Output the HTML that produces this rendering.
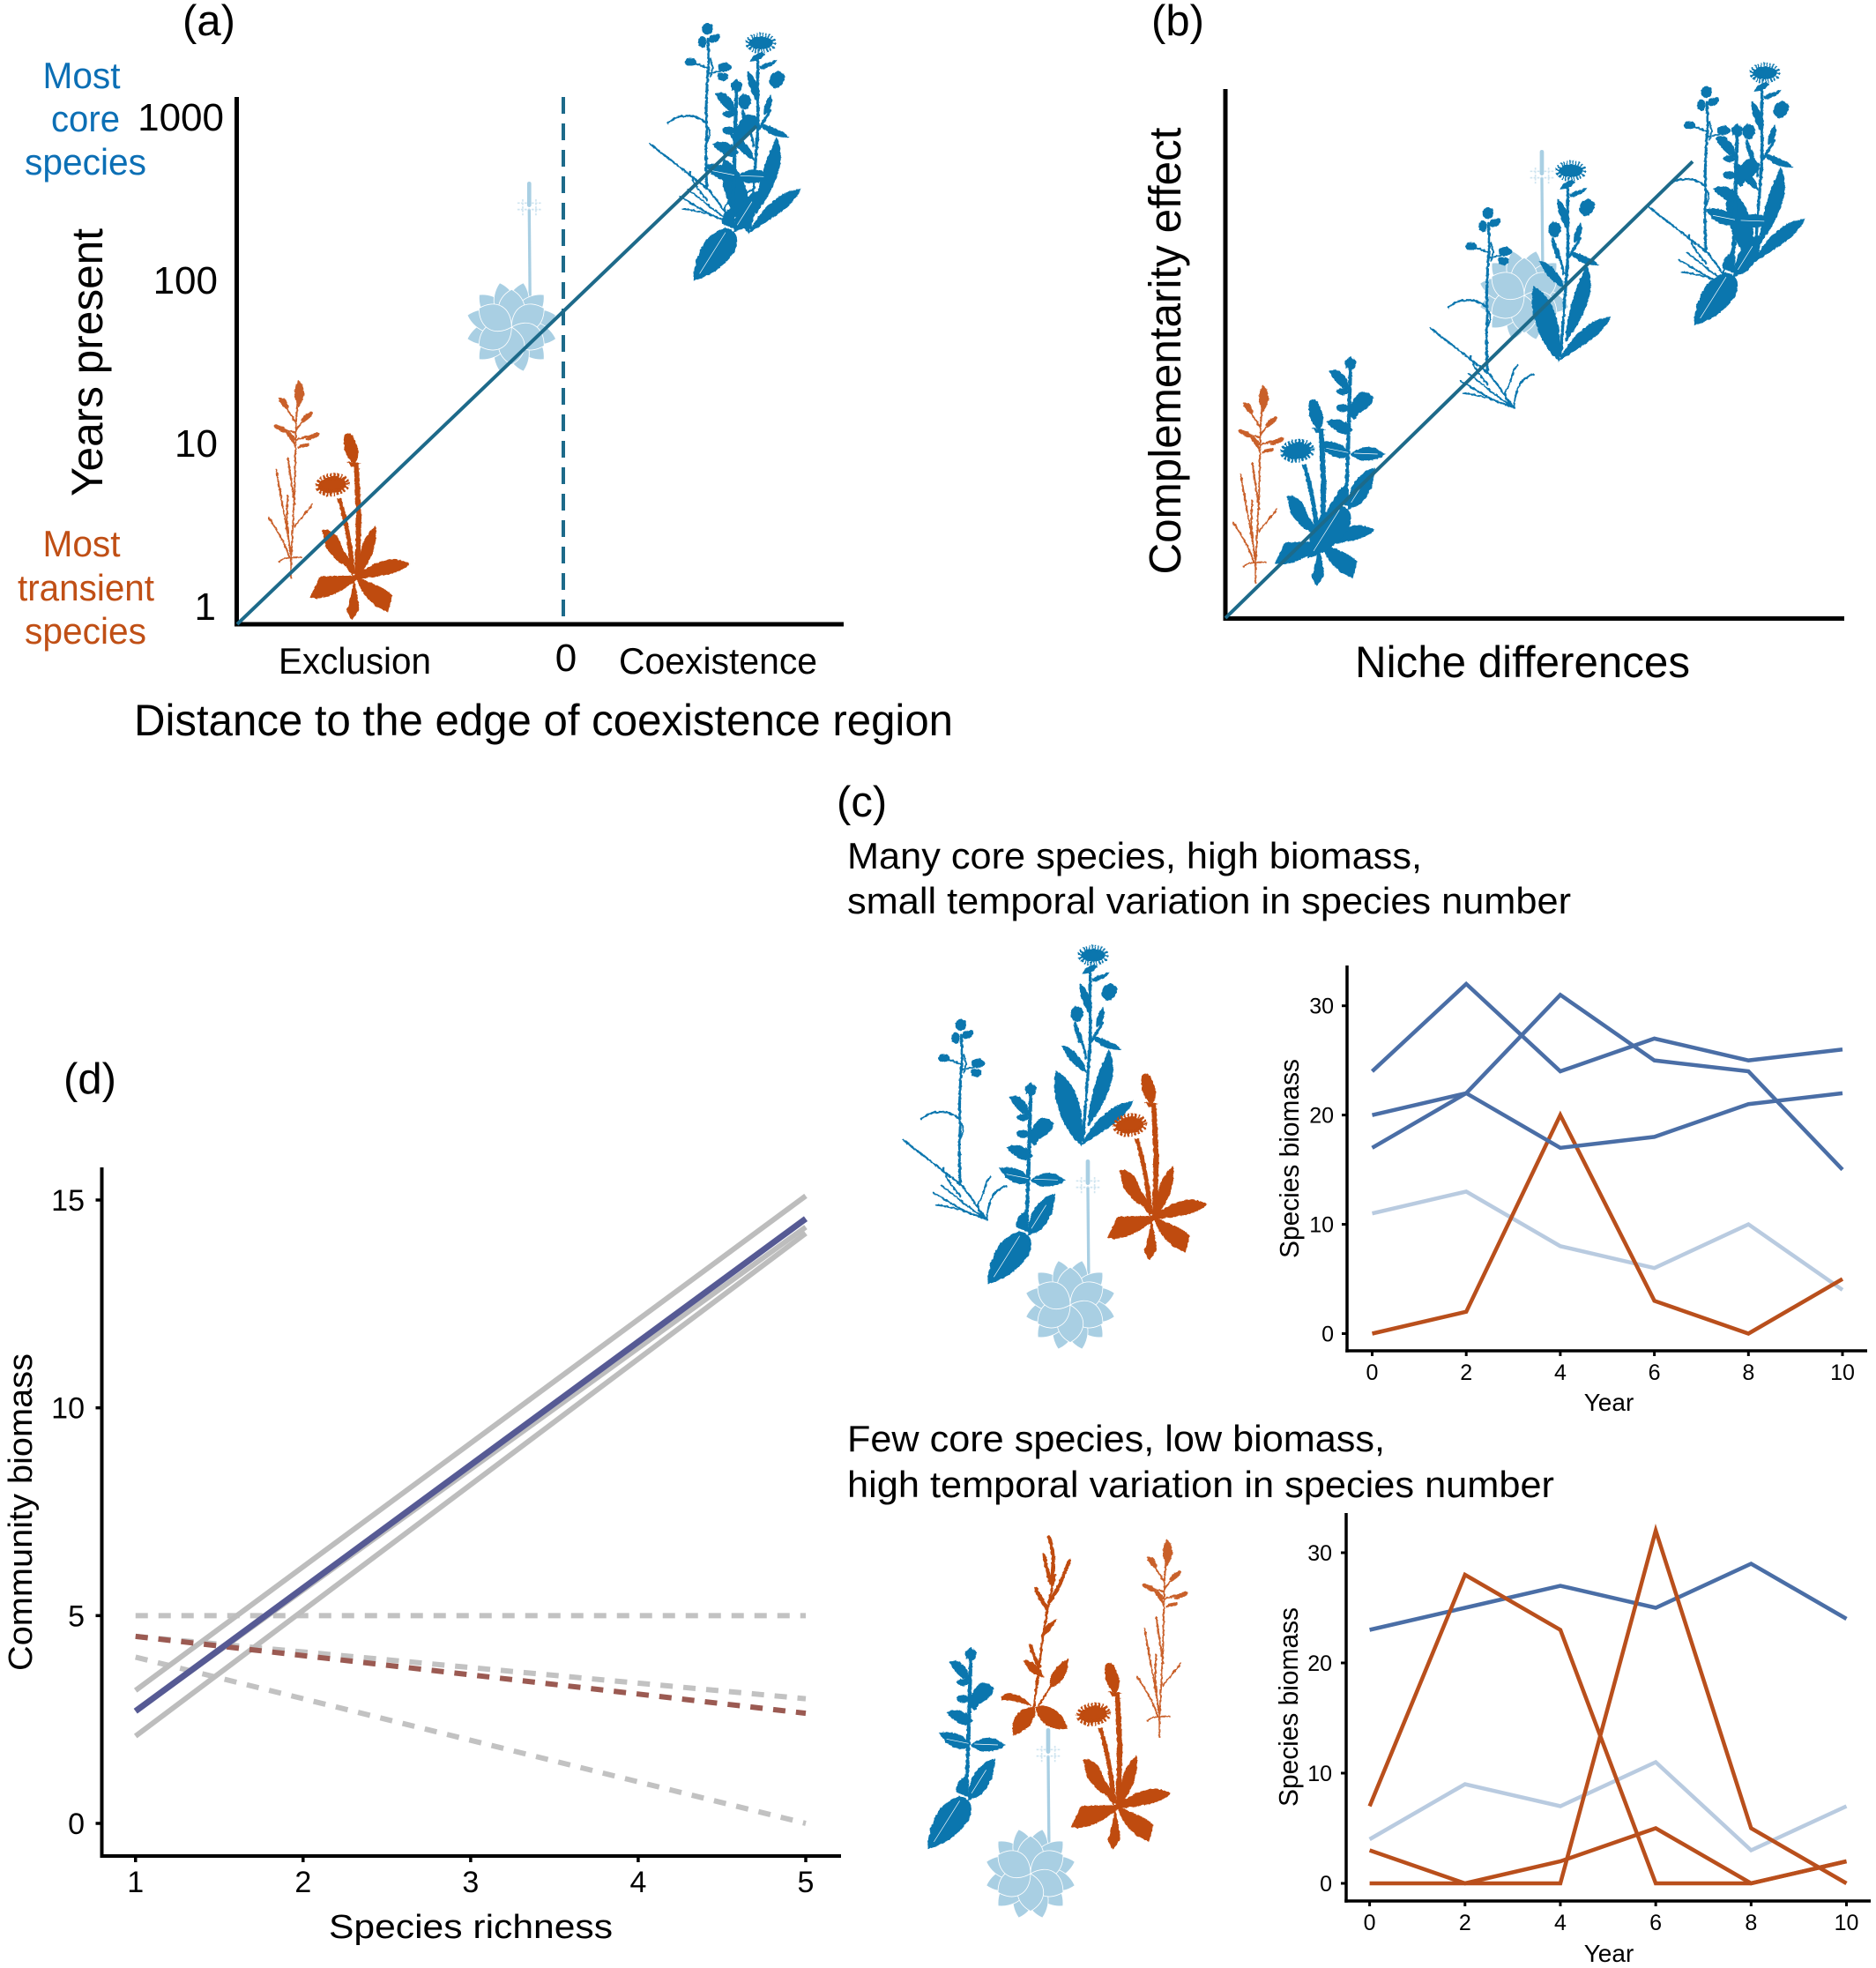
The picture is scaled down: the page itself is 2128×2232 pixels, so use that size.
<!DOCTYPE html>
<html lang="en">
<head>
<meta charset="utf-8">
<title>Core and transient species figure</title>
<style>
html,body{margin:0;padding:0;background:#fff;}
svg{display:block;font-family:"Liberation Sans",Arial,sans-serif;}
text{fill:#000;}
</style>
</head>
<body>
<svg id="figure" xmlns="http://www.w3.org/2000/svg" width="2128" height="2232" viewBox="0 0 2128 2232">
<defs>
<filter id="rough" filterUnits="userSpaceOnUse" x="0" y="0" width="1200" height="1500" color-interpolation-filters="sRGB">
  <feTurbulence type="fractalNoise" baseFrequency="0.09" numOctaves="2" seed="4" result="noise"/>
  <feDisplacementMap in="SourceGraphic" in2="noise" scale="9" xChannelSelector="R" yChannelSelector="G"/>
</filter>
<symbol id="plant-thin" overflow="visible" viewBox="0 0 1200 1500" width="1200" height="1500">
 <g filter="url(#rough)">
  <g fill="none" stroke="currentColor" stroke-linecap="round">
    <path stroke-width="9" d="M238 850C232 760 236 700 238 640C232 590 238 520 240 470C244 430 246 400 240 340"/>
    <path stroke-width="6" d="M240 640C255 660 245 680 240 690M240 460L292 450M200 425L240 440M250 410C262 440 256 450 250 470"/>
    <path stroke-width="7" d="M106 628C130 600 190 590 236 628M42 697L245 855L328 970"/>
    <path stroke-width="6" d="M146 878C200 910 260 950 328 970M155 920C210 925 270 945 328 970M175 855C220 890 280 940 322 965M180 792C185 820 210 860 240 890M340 825C315 850 325 880 298 915C295 935 310 955 322 968M394 855C355 870 335 890 328 968"/>
  </g>
  <g fill="currentColor">
    <ellipse cx="240" cy="307" rx="19" ry="20"/><ellipse cx="222" cy="352" rx="14" ry="20"/>
    <ellipse cx="262" cy="340" rx="22" ry="13" transform="rotate(-25 262 340)"/><ellipse cx="182" cy="420" rx="20" ry="13"/>
    <ellipse cx="298" cy="438" rx="23" ry="16"/><ellipse cx="292" cy="470" rx="19" ry="14"/>
  </g>
 </g>
</symbol>
<symbol id="plant-knapweed" overflow="visible" viewBox="0 0 1200 1500" width="1200" height="1500">
 <g filter="url(#rough)">
  <ellipse cx="690" cy="70" rx="40" ry="22" fill="currentColor" stroke="currentColor" stroke-width="26" stroke-dasharray="4 5"/>
  <g fill="none" stroke="currentColor" stroke-linecap="round">
    <path stroke-width="10" d="M680 110L680 370L655 700"/>
    <path stroke-width="9" d="M628 300C640 340 660 370 665 420M680 370L722 300"/>
  </g>
  <g fill="currentColor">
    <path d="M652 134C665 112 680 96 704 106C698 124 680 132 652 134Z"/>
    <path d="M685 148L748 126C732 150 710 158 688 160Z"/>
    <path d="M645 165C672 188 696 230 682 278C658 245 640 200 645 165Z"/>
    <ellipse cx="745" cy="195" rx="24" ry="30" transform="rotate(30 745 195)"/>
    <path d="M725 245C736 280 720 305 700 316C698 290 708 262 725 245Z"/>
    <ellipse cx="635" cy="270" rx="22" ry="26"/>
    <path d="M622 305C640 320 655 350 660 385L640 365Z"/>
    <path d="M582 376C622 382 662 428 668 470C630 455 598 418 582 376Z"/>
    <path d="M686 345C722 350 762 368 788 392C740 394 708 380 686 345Z"/>
    <path d="M650 720C585 660 545 560 562 462C615 488 658 560 655 700Z"/>
    <path d="M672 655C672 560 716 440 745 390C785 480 730 575 672 655Z"/>
    <path d="M648 720C688 636 750 574 828 566C795 636 722 668 648 720Z"/>
  </g>
 </g>
</symbol>
<symbol id="plant-sage" overflow="visible" viewBox="0 0 1200 1500" width="1200" height="1500">
 <g filter="url(#rough)">
  <path d="M478 520L470 800L462 1010" fill="none" stroke="currentColor" stroke-width="13"/>
  <g fill="currentColor">
    <path d="M478 502L498 520L488 548L462 542L458 518Z"/>
    <path d="M404 550C440 542 474 568 470 618C440 606 418 584 404 550Z"/>
    <ellipse cx="450" cy="622" rx="20" ry="12"/><ellipse cx="452" cy="678" rx="22" ry="13"/>
    <path d="M470 695C485 632 522 600 558 644C545 665 545 676 512 692L490 720Z"/>
    <path d="M396 725C430 702 472 728 486 754C462 780 428 765 396 725Z"/>
    <path d="M370 793C420 782 462 808 478 834C450 864 398 848 370 793Z"/>
    <path d="M478 834C520 798 562 808 596 836C552 866 498 866 478 834Z"/>
    <path d="M468 1024C462 950 510 894 560 880C558 962 522 1014 468 1024Z"/>
    <path d="M426 995C428 958 450 940 468 942L464 1010Z"/>
    <path d="M330 1190C332 1110 368 1024 440 1010C494 1020 484 1072 462 1102C422 1152 382 1176 330 1190Z"/>
  </g>
 </g>
  <path d="M352 1165L440 1025M480 1000L530 920M395 815L470 830M490 832L570 835" fill="none" stroke="#fff" stroke-width="2"/>
</symbol>
<symbol id="plant-rosette" overflow="visible" viewBox="0 0 1200 1500" width="1200" height="1500">
  <path d="M675 1190L672 860" fill="none" stroke="currentColor" stroke-width="10"/>
  <path d="M672 772L672 845" fill="none" stroke="currentColor" stroke-width="14" stroke-linecap="round"/>
  <path d="M632 838L712 838M632 860L712 860M650 825L650 880M672 820L672 885M695 825L695 880" fill="none" stroke="currentColor" stroke-width="5" stroke-dasharray="8 4" opacity=".55"/>
  <g transform="translate(612 1260)" fill="currentColor" stroke="#fff" stroke-width="2.5">
    <path transform="rotate(15)" d="M0 0C-52 -40 -50 -115 0 -156C50 -115 52 -40 0 0Z"/>
    <path transform="rotate(45)" d="M0 0C-52 -40 -50 -115 0 -156C50 -115 52 -40 0 0Z"/>
    <path transform="rotate(75)" d="M0 0C-52 -40 -50 -115 0 -156C50 -115 52 -40 0 0Z"/>
    <path transform="rotate(105)" d="M0 0C-52 -40 -50 -115 0 -156C50 -115 52 -40 0 0Z"/>
    <path transform="rotate(135)" d="M0 0C-52 -40 -50 -115 0 -156C50 -115 52 -40 0 0Z"/>
    <path transform="rotate(165)" d="M0 0C-52 -40 -50 -115 0 -156C50 -115 52 -40 0 0Z"/>
    <path transform="rotate(195)" d="M0 0C-52 -40 -50 -115 0 -156C50 -115 52 -40 0 0Z"/>
    <path transform="rotate(225)" d="M0 0C-52 -40 -50 -115 0 -156C50 -115 52 -40 0 0Z"/>
    <path transform="rotate(255)" d="M0 0C-52 -40 -50 -115 0 -156C50 -115 52 -40 0 0Z"/>
    <path transform="rotate(285)" d="M0 0C-52 -40 -50 -115 0 -156C50 -115 52 -40 0 0Z"/>
    <path transform="rotate(315)" d="M0 0C-52 -40 -50 -115 0 -156C50 -115 52 -40 0 0Z"/>
    <path transform="rotate(345)" d="M0 0C-52 -40 -50 -115 0 -156C50 -115 52 -40 0 0Z"/>
    <path transform="rotate(0)" d="M0 0C-60 -35 -58 -95 0 -128C58 -95 60 -35 0 0Z"/>
    <path transform="rotate(60)" d="M0 0C-60 -35 -58 -95 0 -128C58 -95 60 -35 0 0Z"/>
    <path transform="rotate(120)" d="M0 0C-60 -35 -58 -95 0 -128C58 -95 60 -35 0 0Z"/>
    <path transform="rotate(180)" d="M0 0C-60 -35 -58 -95 0 -128C58 -95 60 -35 0 0Z"/>
    <path transform="rotate(240)" d="M0 0C-60 -35 -58 -95 0 -128C58 -95 60 -35 0 0Z"/>
    <path transform="rotate(300)" d="M0 0C-60 -35 -58 -95 0 -128C58 -95 60 -35 0 0Z"/>
  </g>
</symbol>
<symbol id="plant-dandelion" overflow="visible" viewBox="0 0 1200 1500" width="1200" height="1500">
 <g filter="url(#rough)">
  <ellipse cx="815" cy="648" rx="47" ry="28" transform="rotate(-8 815 648)" fill="currentColor" stroke="currentColor" stroke-width="24" stroke-dasharray="6 5"/>
  <g fill="currentColor">
    <ellipse cx="878" cy="522" rx="22" ry="52" transform="rotate(-14 878 522)"/>
    <path d="M865 570L912 574L880 590Z"/>
    <path d="M888 575L905 575L914 760L908 965L890 965L896 760Z"/>
    <path d="M830 695L846 692C868 770 885 850 892 950L877 950C868 850 855 770 830 695Z"/>
    <path d="M890 965L860 925L828 905L808 880L792 860L780 803L800 800L835 825L852 870L872 900Z"/>
    <path d="M902 945C905 870 925 815 962 788C972 850 945 905 908 960Z"/>
    <path d="M895 960C945 915 1020 880 1078 918C1040 956 970 958 895 972Z"/>
    <path d="M895 962C950 982 1005 1005 1018 1024L1006 1082C955 1066 915 1025 895 962Z"/>
    <path d="M890 965L908 1072L880 1110L862 1075C880 1040 880 1000 890 965Z"/>
    <path d="M898 955C850 962 790 952 770 964L738 1032C785 1044 845 1015 898 972Z"/>
  </g>
 </g>
</symbol>
<symbol id="plant-grass" overflow="visible" viewBox="0 0 1200 1500" width="1200" height="1500">
 <g filter="url(#rough)">
  <g fill="none" stroke="currentColor" stroke-linecap="round" stroke-width="6">
    <path d="M826 720L826 650L838 420L842 200L852 60"/>
    <path d="M845 195L795 120M843 225L775 210M843 215L885 165M842 250L915 230M842 270L810 225M775 350C790 440 810 540 825 640M815 315C825 380 830 420 838 470M815 440C808 500 812 550 820 610M750 515C780 560 810 610 820 650M898 470L838 545M785 665C800 650 820 650 860 650"/>
  </g>
  <g fill="currentColor">
    <path d="M852 46C878 75 874 105 852 140C832 105 832 75 852 46Z"/>
    <ellipse cx="802" cy="125" rx="24" ry="10" transform="rotate(50 802 125)"/>
    <ellipse cx="790" cy="212" rx="25" ry="9" transform="rotate(30 790 212)"/>
    <ellipse cx="880" cy="172" rx="25" ry="9" transform="rotate(-40 880 172)"/>
    <ellipse cx="900" cy="238" rx="26" ry="8" transform="rotate(-25 900 238)"/>
    <ellipse cx="825" cy="238" rx="20" ry="8" transform="rotate(50 825 238)"/>
    <ellipse cx="868" cy="270" rx="20" ry="6" transform="rotate(-15 868 270)"/>
  </g>
 </g>
</symbol>
<symbol id="plant-sorrel" overflow="visible" viewBox="0 0 1200 1500" width="1200" height="1500">
 <g filter="url(#rough)">
  <g fill="none" stroke="currentColor" stroke-linecap="round">
    <path stroke-width="8" d="M398 625L430 370L452 250L470 170"/>
    <path stroke-width="13" stroke-dasharray="10 5" d="M450 40C462 80 472 120 455 200M520 120C500 170 480 220 452 260M432 100L452 190M405 215C420 250 435 265 442 285M388 410C395 440 405 460 418 480"/>
    <path stroke-width="7" d="M458 545L415 612"/>
  </g>
  <g fill="currentColor">
    <path d="M477 318C462 352 442 374 422 378C428 350 450 328 477 318Z"/>
    <path d="M363 458C396 458 428 490 434 518C400 514 373 492 363 458Z"/>
    <path d="M515 453C518 502 492 544 456 552C442 520 468 478 515 453Z"/>
    <path d="M288 583C310 558 362 578 394 617C360 604 320 592 288 595Z"/>
    <path d="M402 618C350 618 316 650 328 714C372 702 408 670 402 618Z"/>
    <path d="M404 618C452 602 502 638 512 692C460 702 408 672 404 618Z"/>
  </g>
 </g>
</symbol>
</defs>

<!-- Panel a -->
<g>
  <text x="207" y="40" font-size="49">(a)</text>
  <g font-size="42" text-anchor="middle">
    <text x="92.5" y="100" style="fill:#0c6fb5" textLength="88" lengthAdjust="spacingAndGlyphs">Most</text>
    <text x="97" y="149" style="fill:#0c6fb5" textLength="78" lengthAdjust="spacingAndGlyphs">core</text>
    <text x="97" y="198" style="fill:#0c6fb5" textLength="138" lengthAdjust="spacingAndGlyphs">species</text>
  </g>
  <g font-size="42" text-anchor="middle">
    <text x="92.5" y="631" style="fill:#c04f15" textLength="88" lengthAdjust="spacingAndGlyphs">Most</text>
    <text x="97.5" y="681" style="fill:#c04f15" textLength="155" lengthAdjust="spacingAndGlyphs">transient</text>
    <text x="97" y="730" style="fill:#c04f15" textLength="138" lengthAdjust="spacingAndGlyphs">species</text>
  </g>
  <text transform="translate(116 411) rotate(-90)" text-anchor="middle" font-size="50" textLength="304" lengthAdjust="spacingAndGlyphs">Years present</text>
  <text x="316" y="764" font-size="42" textLength="173" lengthAdjust="spacingAndGlyphs">Exclusion</text>
  <text x="642" y="761" font-size="44" text-anchor="middle">0</text>
  <text x="702" y="764" font-size="42" textLength="225" lengthAdjust="spacingAndGlyphs">Coexistence</text>
  <text x="152" y="834" font-size="50" textLength="929" lengthAdjust="spacingAndGlyphs">Distance to the edge of coexistence region</text>
  <use href="#plant-grass" transform="translate(55 415.5) scale(.3333)" style="color:#c9602a"/>
  <use href="#plant-rosette" transform="translate(376.3 -49) scale(.3333)" style="color:#a9cfe3"/>
  <use href="#plant-thin" transform="translate(722.6 -69.7) scale(.3333)" style="color:#0b76ae"/>
  <use href="#plant-knapweed" transform="translate(633 25.3) scale(.3333)" style="color:#0b76ae"/>
  <use href="#plant-sage" transform="translate(676.3 -78) scale(.3333)" style="color:#0b76ae"/>
  <use href="#plant-dandelion" transform="translate(105.4 333.8) scale(.3333)" style="color:#bf4b0f"/>
  <g id="chart-a"></g>
</g>

<!-- Panel b -->
<g>
  <text x="1306" y="40" font-size="49">(b)</text>
  <text transform="translate(1339 398) rotate(-90)" text-anchor="middle" font-size="51" textLength="507" lengthAdjust="spacingAndGlyphs">Complementarity effect</text>
  <text x="1537" y="768" font-size="50" textLength="380" lengthAdjust="spacingAndGlyphs">Niche differences</text>
  <use href="#plant-grass" transform="translate(1149 421) scale(.3333)" style="color:#c9602a"/>
  <use href="#plant-rosette" transform="translate(1525 -85) scale(.3333)" style="color:#a9cfe3"/>
  <use href="#plant-thin" transform="translate(1608 139.3) scale(.3333)" style="color:#0b76ae"/>
  <use href="#plant-knapweed" transform="translate(1551.8 170.3) scale(.3333)" style="color:#0b76ae"/>
  <use href="#plant-thin" transform="translate(1855.8 2) scale(.3333)" style="color:#0b76ae"/>
  <use href="#plant-knapweed" transform="translate(1772 59.3) scale(.3333)" style="color:#0b76ae"/>
  <use href="#plant-sage" transform="translate(1811.3 -27.4) scale(.3333)" style="color:#0b76ae"/>
  <use href="#plant-dandelion" transform="translate(1199.9 295.3) scale(.3333)" style="color:#0b76ae"/>
  <use href="#plant-sage" transform="translate(1372.7 236.7) scale(.3333)" style="color:#0b76ae"/>
  <g id="chart-b"></g>
</g>

<!-- Panel c -->
<g>
  <text x="949" y="926" font-size="49">(c)</text>
  <text x="961" y="985" font-size="42" textLength="652" lengthAdjust="spacingAndGlyphs">Many core species, high biomass,</text>
  <text x="961" y="1036" font-size="42" textLength="821" lengthAdjust="spacingAndGlyphs">small temporal variation in species number</text>
  <text x="961" y="1646" font-size="42" textLength="610" lengthAdjust="spacingAndGlyphs">Few core species, low biomass,</text>
  <text x="961" y="1698" font-size="42" textLength="802" lengthAdjust="spacingAndGlyphs">high temporal variation in species number</text>
  <use href="#plant-thin" transform="translate(1010 1060) scale(.3333)" style="color:#0b76ae"/>
  <use href="#plant-knapweed" transform="translate(1010 1060) scale(.3333)" style="color:#0b76ae"/>
  <use href="#plant-sage" transform="translate(1010 1060) scale(.3333)" style="color:#0b76ae"/>
  <use href="#plant-rosette" transform="translate(1010 1060) scale(.3333)" style="color:#a9cfe3"/>
  <use href="#plant-dandelion" transform="translate(1010 1060) scale(.3333)" style="color:#bf4b0f"/>
  <use href="#plant-sage" transform="translate(942 1700.7) scale(.3333)" style="color:#0b76ae"/>
  <use href="#plant-rosette" transform="translate(965 1705) scale(.3333)" style="color:#a9cfe3"/>
  <use href="#plant-dandelion" transform="translate(968.7 1728.3) scale(.3333)" style="color:#bf4b0f"/>
  <use href="#plant-sorrel" transform="translate(1040 1730) scale(.3333)" style="color:#bf4b0f"/>
  <use href="#plant-grass" transform="translate(1040 1730) scale(.3333)" style="color:#c9602a"/>
  <text transform="translate(1473 1314) rotate(-90)" text-anchor="middle" font-size="31" textLength="226" lengthAdjust="spacingAndGlyphs">Species biomass</text>
  <text x="1825" y="1600" text-anchor="middle" font-size="28">Year</text>
  <text transform="translate(1472 1936) rotate(-90)" text-anchor="middle" font-size="31" textLength="226" lengthAdjust="spacingAndGlyphs">Species biomass</text>
  <text x="1825" y="2225" text-anchor="middle" font-size="28">Year</text>
  <g id="chart-c1"></g>
  <g id="chart-c2"></g>
</g>

<!-- Panel d -->
<g>
  <text x="72" y="1240" font-size="49">(d)</text>
  <text transform="translate(36 1715) rotate(-90)" text-anchor="middle" font-size="38" textLength="360" lengthAdjust="spacingAndGlyphs">Community biomass</text>
  <text x="534" y="2198" text-anchor="middle" font-size="38" textLength="322" lengthAdjust="spacingAndGlyphs">Species richness</text>
  <g id="chart-d"></g>
</g>

<script>
// ---- Panel a data ----
const aDistance = [-1, 0.592];
const aYears = [0.78, 883];
const aYearTicks = [1, 10, 100, 1000];
// ---- Panel b data ----
const bNiche = [0, 0.755];
const bComplementarity = [0, 0.863];
// ---- Panel c data ----
const cYears = [0, 2, 4, 6, 8, 10];
const cYTicks = [0, 10, 20, 30];
const c1Blue1 = [24, 32, 24, 27, 25, 26];
const c1Blue2 = [17, 22, 31, 25, 24, 15];
const c1Blue3 = [20, 22, 17, 18, 21, 22];
const c1Light = [11, 13, 8, 6, 10, 4];
const c1Red = [0, 2, 20, 3, 0, 5];
const c2Blue = [23, 25, 27, 25, 29, 24];
const c2Light = [4, 9, 7, 11, 3, 7];
const c2Red1 = [7, 28, 23, 0, 0, 2];
const c2Red2 = [0, 0, 0, 32, 5, 0];
const c2Red3 = [3, 0, 2, 5, 0, 2];
// ---- Panel d data ----
const dRichness = [1, 5];
const dXTicks = [1, 2, 3, 4, 5];
const dYTicks = [0, 5, 10, 15];
const dSolidGray1 = [3.2, 15.1];
const dSolidGray2 = [2.1, 14.2];
const dSolidGray3 = [2.7, 14.35];
const dSolidMain = [2.7, 14.55];
const dDashGray1 = [5, 5];
const dDashGray2 = [4.5, 3];
const dDashGray3 = [4, 0];
const dDashMain = [4.5, 2.65];

const NS = 'http://www.w3.org/2000/svg';
function scale(d0, d1, r0, r1) { return v => r0 + (v - d0) * (r1 - r0) / (d1 - d0); }
function logScale(r0, step) { return v => r0 - Math.log10(v) * step; }
function make(parent, tag, props, txt) {
  const el = document.createElementNS(NS, tag);
  for (const k in props) el.setAttribute(k, props[k]);
  if (txt !== undefined) el.textContent = txt;
  parent.appendChild(el);
  return el;
}
function axisLines(parent, x, top, bottom, right, w) {
  const yAxis = make(parent, 'line', {x1: x, x2: x, y1: top, y2: bottom + w / 2, stroke: '#000', 'stroke-width': w});
  
  
  const xAxis = make(parent, 'line', {x1: x - w / 2, x2: right, y1: bottom, y2: bottom, stroke: '#000', 'stroke-width': w});
  
  
}
function seriesLine(parent, xs, ys, xf, yf, style, name) {
  const pts = xs.map((v, i) => xf(v) + ',' + yf(ys[i])).join(' ');
  const el = make(parent, 'polyline', Object.assign({points: pts, fill: 'none', 'stroke-linejoin': 'miter'}, style));
  
  
  return el;
}
function ticks(parent, xVals, yVals, xf, yf, axisX, axisY, len, w, fs, xBase, yRight, yOff) {
  xVals.forEach(v => {
    const t = make(parent, 'line', {x1: xf(v), x2: xf(v), y1: axisY, y2: axisY + len, stroke: '#000', 'stroke-width': w});
    
    
    const l = make(parent, 'text', {x: xf(v), y: xBase, 'text-anchor': 'middle', 'font-size': fs}, String(v));
    
    
  });
  yVals.forEach(v => {
    const t = make(parent, 'line', {x1: axisX - len, x2: axisX, y1: yf(v), y2: yf(v), stroke: '#000', 'stroke-width': w});
    
    
    const l = make(parent, 'text', {x: yRight, y: yf(v) + yOff, 'text-anchor': 'end', 'font-size': fs}, String(v));
    
    
  });
}

// Panel a
(function () {
  const g = document.getElementById('chart-a');
  const xf = scale(0, 1, 639, 1009);
  const yf = logScale(688, 185);
  axisLines(g, 268.5, 110, 708, 957, 5);
  const zero = make(g, 'line', {x1: xf(0), x2: xf(0), y1: 110, y2: 702, stroke: '#1d6a8a', 'stroke-width': 4, 'stroke-dasharray': '19 11'});
  
  
  seriesLine(g, aDistance, aYears, xf, yf, {stroke: '#1d6a8a', 'stroke-width': 4}, 'years-vs-distance-line');
  const rights = {1: 245, 10: 247, 100: 247, 1000: 254};
  aYearTicks.forEach(v => {
    const l = make(g, 'text', {x: rights[v], y: yf(v) + 15, 'text-anchor': 'end', 'font-size': 44}, String(v));
    
    
  });
})();

// Panel b
(function () {
  const g = document.getElementById('chart-b');
  const xf = scale(0, 1, 1390, 2092);
  const yf = scale(0, 1, 701, 101);
  axisLines(g, 1390, 101, 701.5, 2092, 5);
  seriesLine(g, bNiche, bComplementarity, xf, yf, {stroke: '#1d6a8a', 'stroke-width': 4}, 'complementarity-line');
})();

const cBlue = {stroke: '#4a6ea6', 'stroke-width': 4.5};
const cLightStyle = {stroke: '#b9cbe0', 'stroke-width': 4.5};
const cRed = {stroke: '#b94f1c', 'stroke-width': 4.5};

// Panel c1
(function () {
  const g = document.getElementById('chart-c1');
  const xf = scale(0, 10, 1556.5, 2090);
  const yf = scale(0, 30, 1512.5, 1140.7);
  axisLines(g, 1528, 1095, 1532, 2118, 3.5);
  ticks(g, cYears, cYTicks, xf, yf, 1528, 1532, 6, 3, 25, 1565, 1513, 9);
  seriesLine(g, cYears, c1Light, xf, yf, cLightStyle, 'c1-light-transient-series');
  seriesLine(g, cYears, c1Red, xf, yf, cRed, 'c1-transient-series');
  seriesLine(g, cYears, c1Blue1, xf, yf, cBlue, 'c1-core-series-1');
  seriesLine(g, cYears, c1Blue2, xf, yf, cBlue, 'c1-core-series-2');
  seriesLine(g, cYears, c1Blue3, xf, yf, cBlue, 'c1-core-series-3');
})();

// Panel c2
(function () {
  const g = document.getElementById('chart-c2');
  const xf = scale(0, 10, 1553.6, 2094.5);
  const yf = scale(0, 30, 2136, 1761);
  axisLines(g, 1527, 1716, 2156, 2122, 3.5);
  ticks(g, cYears, cYTicks, xf, yf, 1527, 2156, 6, 3, 25, 2189, 1511, 9);
  seriesLine(g, cYears, c2Light, xf, yf, cLightStyle, 'c2-light-series');
  seriesLine(g, cYears, c2Blue, xf, yf, cBlue, 'c2-core-series');
  seriesLine(g, cYears, c2Red1, xf, yf, cRed, 'c2-transient-series-1');
  seriesLine(g, cYears, c2Red2, xf, yf, cRed, 'c2-transient-series-2');
  seriesLine(g, cYears, c2Red3, xf, yf, cRed, 'c2-transient-series-3');
})();

// Panel d
(function () {
  const g = document.getElementById('chart-d');
  const xf = scale(1, 5, 153.75, 914);
  const yf = scale(0, 15, 2068, 1361);
  axisLines(g, 115.5, 1324, 2105, 954, 4);
  ticks(g, dXTicks, dYTicks, xf, yf, 115.5, 2105, 7, 3.5, 34, 2146, 96, 12);
  const gray = {stroke: '#bdbdbd', 'stroke-width': 6};
  const grayDash = {stroke: '#c2c2c2', 'stroke-width': 6, 'stroke-dasharray': '14 12'};
  seriesLine(g, dRichness, dDashGray1, xf, yf, grayDash, 'dashed-gray-line-flat');
  seriesLine(g, dRichness, dDashGray2, xf, yf, grayDash, 'dashed-gray-line-shallow');
  seriesLine(g, dRichness, dDashGray3, xf, yf, grayDash, 'dashed-gray-line-steep');
  seriesLine(g, dRichness, dSolidGray1, xf, yf, gray, 'solid-gray-line-upper');
  seriesLine(g, dRichness, dSolidGray2, xf, yf, gray, 'solid-gray-line-lower');
  seriesLine(g, dRichness, dSolidGray3, xf, yf, gray, 'solid-gray-line-middle');
  seriesLine(g, dRichness, dDashMain, xf, yf, {stroke: '#9b5a52', 'stroke-width': 6, 'stroke-dasharray': '14 12'}, 'dashed-mean-line');
  seriesLine(g, dRichness, dSolidMain, xf, yf, {stroke: '#565a94', 'stroke-width': 7}, 'solid-mean-line');
})();
</script>
</svg>
</body>
</html>
